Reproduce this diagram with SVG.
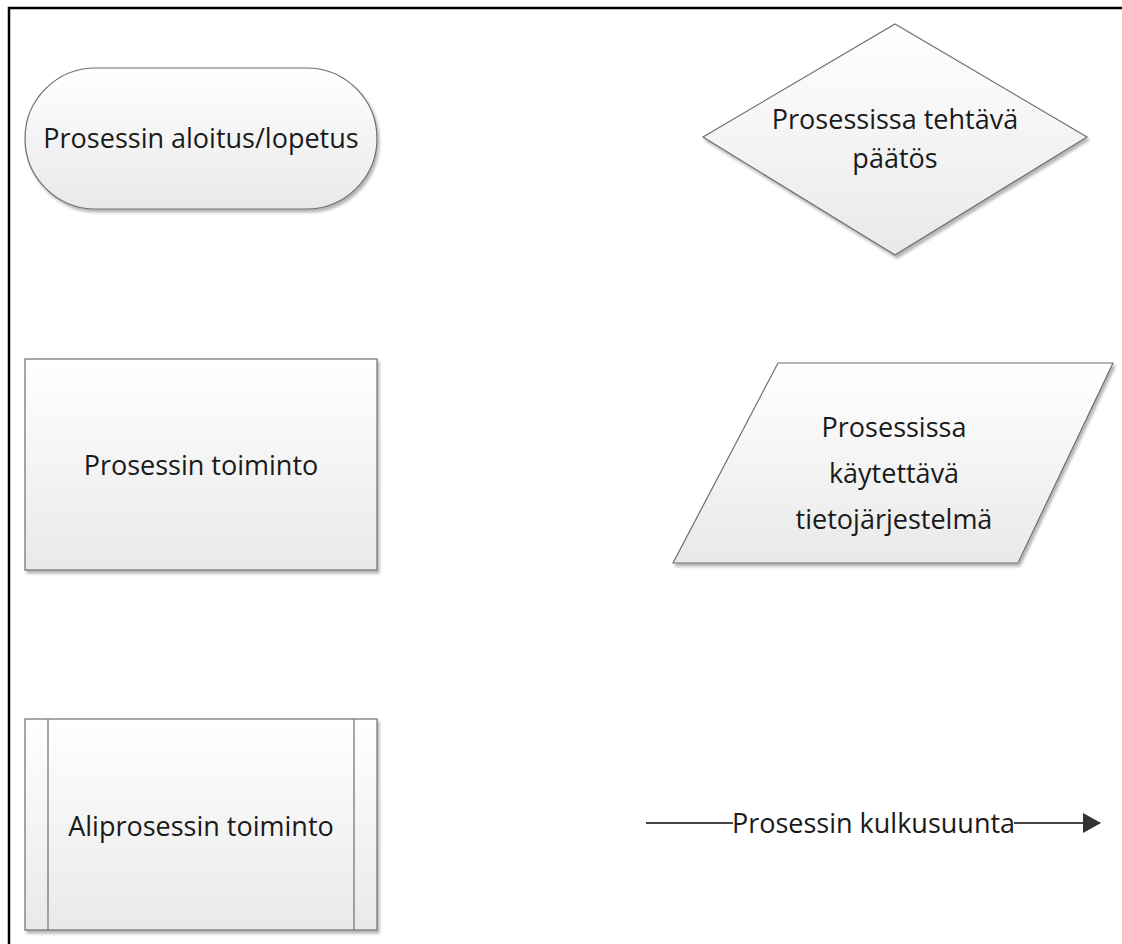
<svg xmlns="http://www.w3.org/2000/svg" width="1122" height="944" viewBox="0 0 1122 944">
  <defs>
    <linearGradient id="fillGrad" x1="0" y1="0" x2="0" y2="1">
      <stop offset="0" stop-color="#ffffff"/>
      <stop offset="1" stop-color="#e9e9e9"/>
    </linearGradient>
    <filter id="shadow" x="-10%" y="-10%" width="120%" height="120%">
      <feGaussianBlur in="SourceAlpha" stdDeviation="1.5"/>
      <feOffset dx="2" dy="3" result="b"/>
      <feComponentTransfer><feFuncA type="linear" slope="0.3"/></feComponentTransfer>
      <feMerge><feMergeNode/><feMergeNode in="SourceGraphic"/></feMerge>
    </filter>
    <marker id="arrow" markerWidth="18" markerHeight="20" refX="17" refY="10" orient="auto" markerUnits="userSpaceOnUse">
      <path d="M0,0 L18,10 L0,20 Z" fill="#333333"/>
    </marker>
  </defs>
  <style>
    .shape { fill: url(#fillGrad); stroke: #6e6e6e; stroke-width: 1.2; filter: url(#shadow); }
    .inner { fill: none; stroke: #6e6e6e; stroke-width: 1.2; }
    .lbl { font-family: "Open Sans", "Liberation Sans", Arial, sans-serif; font-size: 27px; fill: #1a1a1a; text-anchor: middle; }
    .conn { stroke: #444444; stroke-width: 2; fill: none; }
  </style>
  <rect x="0" y="0" width="1122" height="944" fill="#ffffff"/>
  <path d="M9,944 V8 H1122" fill="none" stroke="#000000" stroke-width="2.5"/>

  <g id="terminator">
    <rect class="shape" x="25" y="68" width="352" height="141" rx="70.5" ry="70.5"/>
    <text class="lbl" x="201" y="148">Prosessin aloitus/lopetus</text>
  </g>

  <g id="decision">
    <polygon class="shape" points="895,24 1087,137 895,255 703,137"/>
    <text class="lbl" x="895" y="129">Prosessissa tehtävä</text>
    <text class="lbl" x="895" y="168">päätös</text>
  </g>

  <g id="process">
    <rect class="shape" x="25" y="359" width="352" height="211"/>
    <text class="lbl" x="201" y="475">Prosessin toiminto</text>
  </g>

  <g id="data">
    <polygon class="shape" points="778,363 1113,363 1018,563 673,563"/>
    <text class="lbl" x="894" y="437">Prosessissa</text>
    <text class="lbl" x="894" y="483">käytettävä</text>
    <text class="lbl" x="894" y="529">tietojärjestelmä</text>
  </g>

  <g id="subprocess">
    <rect class="shape" x="25" y="719" width="352" height="211"/>
    <line class="inner" x1="48" y1="719" x2="48" y2="930"/>
    <line class="inner" x1="354" y1="719" x2="354" y2="930"/>
    <text class="lbl" x="201" y="836">Aliprosessin toiminto</text>
  </g>

  <g id="connectors">
    <line class="conn" x1="646" y1="823" x2="733" y2="823"/>
    <line class="conn" x1="1014" y1="823" x2="1100" y2="823" marker-end="url(#arrow)"/>
    <text class="lbl" x="873.5" y="833">Prosessin kulkusuunta</text>
  </g>
</svg>
